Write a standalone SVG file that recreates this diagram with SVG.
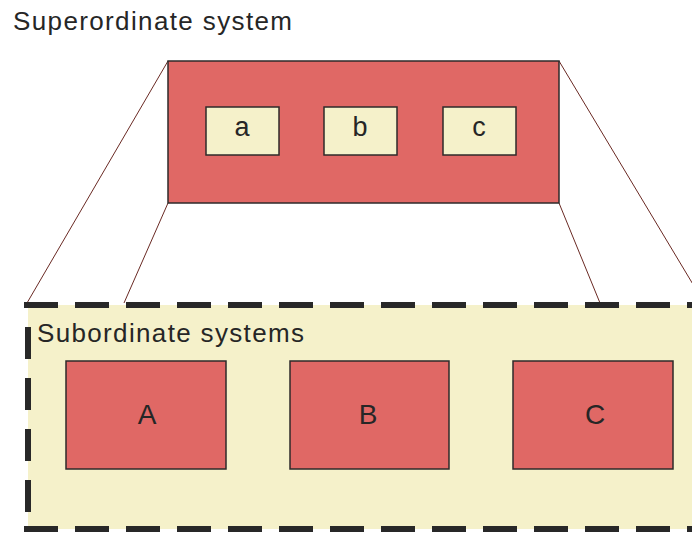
<svg xmlns="http://www.w3.org/2000/svg" width="692" height="533" viewBox="0 0 692 533">
<style>
.lbl{font-family:"Liberation Sans",Arial,sans-serif;fill:#262626}
.red{fill:#E06865;stroke:#2e2a2a;stroke-width:1.5}
.beige{fill:#F5F1CA;stroke:#2e2a2a;stroke-width:1.5}
.conn{stroke:#6a2a24;stroke-width:1;fill:none}
.dash{stroke:#282828;stroke-width:6;stroke-dasharray:34 17;fill:none}
</style>
<rect width="692" height="533" fill="#ffffff"/>
<text class="lbl" x="13" y="30" font-size="26" textLength="279" lengthAdjust="spacing">Superordinate system</text>
<g id="connectors">
<line class="conn" x1="168" y1="61" x2="27" y2="303"/>
<line class="conn" x1="168" y1="203" x2="124" y2="303"/>
<line class="conn" x1="559" y1="203" x2="600" y2="303"/>
<line class="conn" x1="559" y1="61" x2="700" y2="296"/>
</g>
<g id="subordinate">
<rect x="28" y="305" width="680" height="224" fill="#F5F1CA"/>
<line class="dash" x1="24" y1="305" x2="700" y2="305" stroke-dashoffset="0"/>
<line class="dash" x1="24" y1="529" x2="700" y2="529"/>
<line class="dash" x1="28" y1="327" x2="28" y2="529" style="stroke-dasharray:32 19"/>
<text class="lbl" x="37" y="342" font-size="26" textLength="267" lengthAdjust="spacing">Subordinate systems</text>
</g>
<g id="superordinate">
<rect class="red" x="168" y="61" width="391" height="142"/>
</g>
<g id="node-a">
<rect class="beige" x="206" y="107" width="73" height="48"/>
<text class="lbl" x="242" y="136" font-size="27" text-anchor="middle">a</text>
</g>
<g id="node-b">
<rect class="beige" x="324" y="107" width="73" height="48"/>
<text class="lbl" x="360" y="136" font-size="27" text-anchor="middle">b</text>
</g>
<g id="node-c">
<rect class="beige" x="443" y="107" width="73" height="48"/>
<text class="lbl" x="479" y="136" font-size="27" text-anchor="middle">c</text>
</g>
<g id="node-A">
<rect class="red" x="66" y="361" width="160" height="108"/>
<text class="lbl" x="147" y="424" font-size="28" text-anchor="middle">A</text>
</g>
<g id="node-B">
<rect class="red" x="290" y="361" width="159" height="108"/>
<text class="lbl" x="368" y="424" font-size="28" text-anchor="middle">B</text>
</g>
<g id="node-C">
<rect class="red" x="513" y="361" width="160" height="108"/>
<text class="lbl" x="595" y="424" font-size="28" text-anchor="middle">C</text>
</g>
</svg>
